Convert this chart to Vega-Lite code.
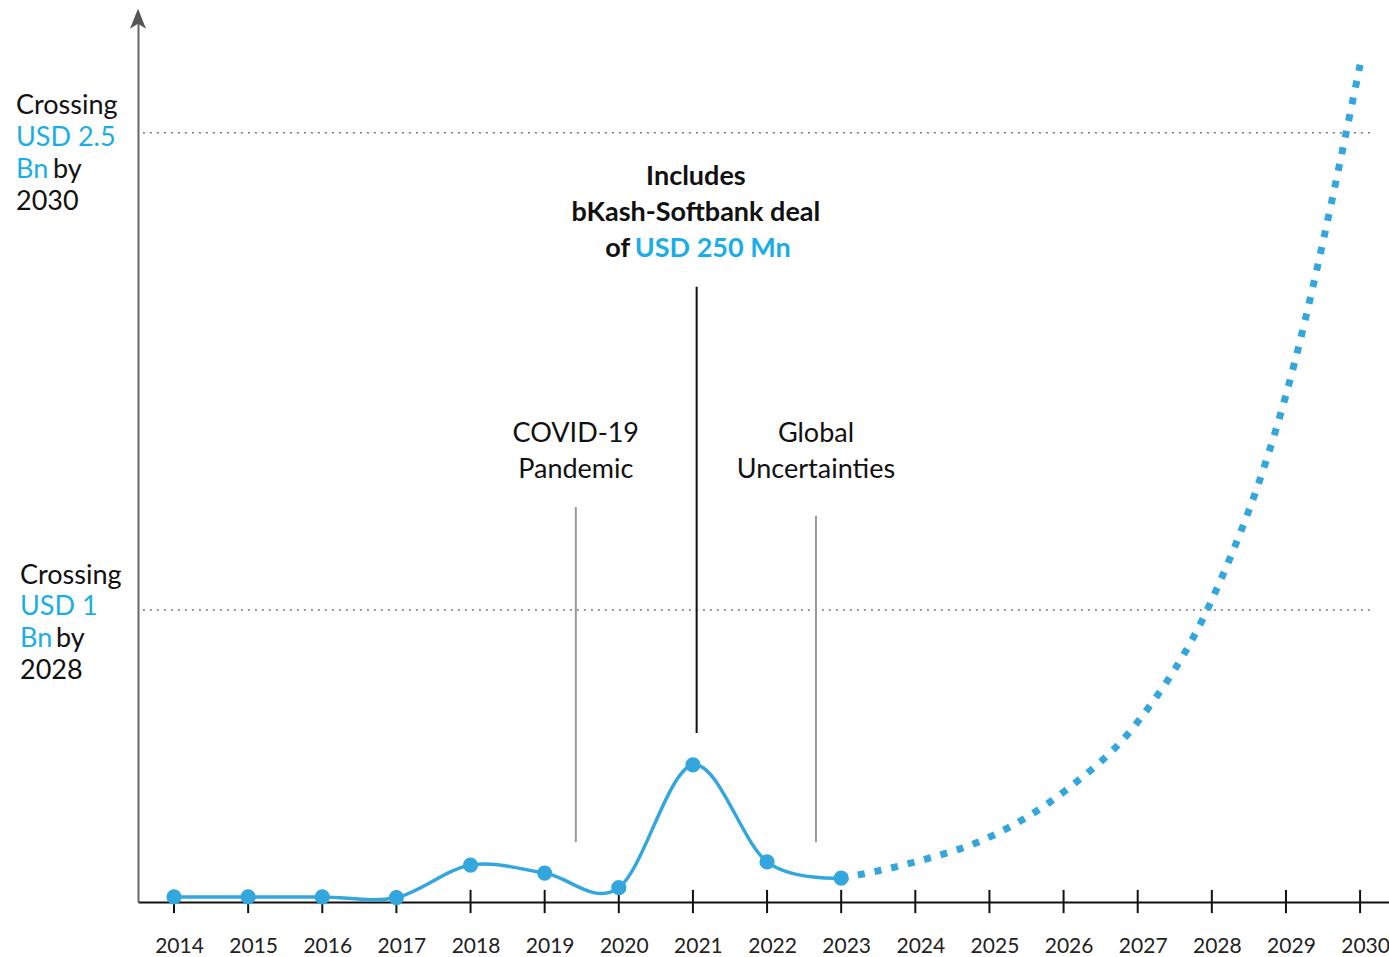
{
  "$schema": "https://vega.github.io/schema/vega-lite/v6.json",
  "width": 1251,
  "height": 890,
  "autosize": {"type": "none"},
  "padding": {"left": 138, "top": 12, "right": 0, "bottom": 55},
  "config": {"view": {"stroke": null}, "font": "Lato", "text": {"font": "Lato"}},
  "datasets": {
    "actual": [
      {"year": 2014, "value": 98},
      {"year": 2015, "value": 98},
      {"year": 2016, "value": 98},
      {"year": 2017, "value": 96},
      {"year": 2018, "value": 198},
      {"year": 2019, "value": 173},
      {"year": 2020, "value": 127},
      {"year": 2021, "value": 513},
      {"year": 2022, "value": 208},
      {"year": 2023, "value": 157}
    ],
    "projection": [
      {"year": 2023, "value": 157},
      {"year": 2024, "value": 208},
      {"year": 2025, "value": 286},
      {"year": 2026, "value": 428},
      {"year": 2027, "value": 648},
      {"year": 2028, "value": 1032},
      {"year": 2029, "value": 1676},
      {"year": 2030, "value": 2714}
    ],
    "years": [
      {"year": 2014}, {"year": 2015}, {"year": 2016}, {"year": 2017}, {"year": 2018},
      {"year": 2019}, {"year": 2020}, {"year": 2021}, {"year": 2022}, {"year": 2023},
      {"year": 2024}, {"year": 2025}, {"year": 2026}, {"year": 2027}, {"year": 2028},
      {"year": 2029}, {"year": 2030}
    ],
    "milestones": [
      {"value": 1000},
      {"value": 2500}
    ],
    "events": [
      {"year": 2019.42, "value": 271, "value2": 1324, "kind": "grey"},
      {"year": 2022.66, "value": 271, "value2": 1296, "kind": "grey"},
      {"year": 2021.05, "value": 613, "value2": 2016, "kind": "black"}
    ],
    "labels": [
      {"text": "Crossing", "year": 2011.868, "value": 2585, "group": "left_black"},
      {"text": "2030", "year": 2011.868, "value": 2283, "group": "left_black"},
      {"text": "by", "year": 2012.368, "value": 2384, "group": "left_black"},
      {"text": "Crossing", "year": 2011.922, "value": 1107, "group": "left_black"},
      {"text": "2028", "year": 2011.922, "value": 808, "group": "left_black"},
      {"text": "by", "year": 2012.408, "value": 909, "group": "left_black"},
      {"text": "USD 2.5", "year": 2011.868, "value": 2485, "group": "left_blue"},
      {"text": "Bn", "year": 2011.868, "value": 2384, "group": "left_blue"},
      {"text": "USD 1", "year": 2011.922, "value": 1010, "group": "left_blue"},
      {"text": "Bn", "year": 2011.922, "value": 909, "group": "left_blue"},
      {"text": "COVID-19", "year": 2019.42, "value": 1554, "group": "event"},
      {"text": "Pandemic", "year": 2019.42, "value": 1440, "group": "event"},
      {"text": "Global", "year": 2022.66, "value": 1554, "group": "event"},
      {"text": "Uncertainties", "year": 2022.66, "value": 1440, "group": "event"},
      {"text": "Includes", "year": 2021.04, "value": 2362, "group": "deal"},
      {"text": "bKash-Softbank deal", "year": 2021.04, "value": 2249, "group": "deal"},
      {"text": "of", "year": 2020.152, "value": 2135, "group": "deal_of"},
      {"text": "USD 250 Mn", "year": 2020.215, "value": 2135, "group": "deal_blue"}
    ]
  },
  "layer": [
    {
      "data": {"name": "milestones"},
      "mark": {"type": "rule", "strokeDash": [2, 5], "color": "#777777", "strokeWidth": 1.5},
      "encoding": {
        "x": {"datum": 2013.58, "type": "quantitative", "title": null, "scale": {"domain": [2013.514, 2030.39], "nice": false, "zero": false}},
        "x2": {"datum": 2030.16},
        "y": {"field": "value", "type": "quantitative", "title": null, "scale": {"domain": [82, 2880], "nice": false, "zero": false}}
      }
    },
    {
      "data": {"name": "years"},
      "mark": {"type": "rule", "color": "#111111", "strokeWidth": 2},
      "encoding": {
        "x": {"field": "year", "type": "quantitative", "title": null, "scale": {"domain": [2013.514, 2030.39], "nice": false, "zero": false}},
        "y": {"datum": 47, "type": "quantitative", "title": null, "scale": {"domain": [82, 2880], "nice": false, "zero": false}},
        "y2": {"datum": 120}
      }
    },
    {
      "data": {"name": "events"},
      "mark": {"type": "rule", "strokeWidth": 2},
      "encoding": {
        "x": {"field": "year", "type": "quantitative", "title": null, "scale": {"domain": [2013.514, 2030.39], "nice": false, "zero": false}},
        "y": {"field": "value", "type": "quantitative", "title": null, "scale": {"domain": [82, 2880], "nice": false, "zero": false}},
        "y2": {"field": "value2"},
        "color": {"field": "kind", "type": "nominal", "scale": {"domain": ["grey", "black"], "range": ["#9a9a9a", "#111111"]}, "legend": null}
      }
    },
    {
      "data": {"name": "projection"},
      "mark": {"type": "line", "interpolate": "monotone", "strokeDash": [7, 10], "strokeWidth": 7, "color": "#33a7dd"},
      "encoding": {
        "x": {"field": "year", "type": "quantitative", "title": null, "scale": {"domain": [2013.514, 2030.39], "nice": false, "zero": false}},
        "y": {"field": "value", "type": "quantitative", "title": null, "scale": {"domain": [82, 2880], "nice": false, "zero": false}}
      }
    },
    {
      "data": {"name": "actual"},
      "mark": {"type": "line", "interpolate": "cardinal", "strokeWidth": 3.5, "color": "#33a7dd"},
      "encoding": {
        "x": {
          "field": "year", "type": "quantitative", "title": null,
          "scale": {"domain": [2013.514, 2030.39], "nice": false, "zero": false},
          "axis": {
            "values": [2014, 2015, 2016, 2017, 2018, 2019, 2020, 2021, 2022, 2023, 2024, 2025, 2026, 2027, 2028, 2029, 2030],
            "format": "d", "title": null, "grid": false, "ticks": false, "tickSize": 0,
            "domain": true, "domainColor": "#111111", "domainWidth": 2,
            "labelFont": "Lato", "labelFontSize": 21, "labelColor": "#222222",
            "labelPadding": 33, "labelOffset": 5, "labelFlush": false, "labelOverlap": false
          }
        },
        "y": {
          "field": "value", "type": "quantitative", "title": null,
          "scale": {"domain": [82, 2880], "nice": false, "zero": false},
          "axis": {"title": null, "grid": false, "ticks": false, "labels": false, "domain": true, "domainColor": "#666666", "domainWidth": 2}
        }
      }
    },
    {
      "data": {"name": "actual"},
      "mark": {"type": "circle", "size": 230, "opacity": 1, "color": "#33a7dd"},
      "encoding": {
        "x": {"field": "year", "type": "quantitative", "title": null, "scale": {"domain": [2013.514, 2030.39], "nice": false, "zero": false}},
        "y": {"field": "value", "type": "quantitative", "title": null, "scale": {"domain": [82, 2880], "nice": false, "zero": false}}
      }
    },
    {
      "data": {"name": "labels"},
      "transform": [{"filter": "datum.group === 'left_black'"}],
      "mark": {"type": "text", "align": "left", "baseline": "middle", "fontSize": 27, "color": "#111111", "font": "Lato"},
      "encoding": {
        "x": {"field": "year", "type": "quantitative", "title": null, "scale": {"domain": [2013.514, 2030.39], "nice": false, "zero": false}},
        "y": {"field": "value", "type": "quantitative", "title": null, "scale": {"domain": [82, 2880], "nice": false, "zero": false}},
        "text": {"field": "text"}
      }
    },
    {
      "data": {"name": "labels"},
      "transform": [{"filter": "datum.group === 'left_blue'"}],
      "mark": {"type": "text", "align": "left", "baseline": "middle", "fontSize": 27, "color": "#1badE6", "font": "Lato"},
      "encoding": {
        "x": {"field": "year", "type": "quantitative", "title": null, "scale": {"domain": [2013.514, 2030.39], "nice": false, "zero": false}},
        "y": {"field": "value", "type": "quantitative", "title": null, "scale": {"domain": [82, 2880], "nice": false, "zero": false}},
        "text": {"field": "text"}
      }
    },
    {
      "data": {"name": "labels"},
      "transform": [{"filter": "datum.group === 'event'"}],
      "mark": {"type": "text", "align": "center", "baseline": "middle", "fontSize": 27, "color": "#111111", "font": "Lato"},
      "encoding": {
        "x": {"field": "year", "type": "quantitative", "title": null, "scale": {"domain": [2013.514, 2030.39], "nice": false, "zero": false}},
        "y": {"field": "value", "type": "quantitative", "title": null, "scale": {"domain": [82, 2880], "nice": false, "zero": false}},
        "text": {"field": "text"}
      }
    },
    {
      "data": {"name": "labels"},
      "transform": [{"filter": "datum.group === 'deal'"}],
      "mark": {"type": "text", "align": "center", "baseline": "middle", "fontSize": 27, "fontWeight": "bold", "color": "#111111", "font": "Lato"},
      "encoding": {
        "x": {"field": "year", "type": "quantitative", "title": null, "scale": {"domain": [2013.514, 2030.39], "nice": false, "zero": false}},
        "y": {"field": "value", "type": "quantitative", "title": null, "scale": {"domain": [82, 2880], "nice": false, "zero": false}},
        "text": {"field": "text"}
      }
    },
    {
      "data": {"name": "labels"},
      "transform": [{"filter": "datum.group === 'deal_of'"}],
      "mark": {"type": "text", "align": "right", "baseline": "middle", "fontSize": 27, "fontWeight": "bold", "color": "#111111", "font": "Lato"},
      "encoding": {
        "x": {"field": "year", "type": "quantitative", "title": null, "scale": {"domain": [2013.514, 2030.39], "nice": false, "zero": false}},
        "y": {"field": "value", "type": "quantitative", "title": null, "scale": {"domain": [82, 2880], "nice": false, "zero": false}},
        "text": {"field": "text"}
      }
    },
    {
      "data": {"name": "labels"},
      "transform": [{"filter": "datum.group === 'deal_blue'"}],
      "mark": {"type": "text", "align": "left", "baseline": "middle", "fontSize": 27, "fontWeight": "bold", "color": "#1badE6", "font": "Lato"},
      "encoding": {
        "x": {"field": "year", "type": "quantitative", "title": null, "scale": {"domain": [2013.514, 2030.39], "nice": false, "zero": false}},
        "y": {"field": "value", "type": "quantitative", "title": null, "scale": {"domain": [82, 2880], "nice": false, "zero": false}},
        "text": {"field": "text"}
      }
    },
    {
      "data": {"values": [{"label": "arrow"}]},
      "mark": {"type": "point", "shape": "M0,-1L0.8,1L0,0.5L-0.8,1Z", "filled": true, "size": 400, "opacity": 1, "color": "#555555"},
      "encoding": {
        "x": {"datum": 2013.514, "type": "quantitative", "title": null, "scale": {"domain": [2013.514, 2030.39], "nice": false, "zero": false}},
        "y": {"datum": 2859, "type": "quantitative", "title": null, "scale": {"domain": [82, 2880], "nice": false, "zero": false}}
      }
    }
  ]
}
